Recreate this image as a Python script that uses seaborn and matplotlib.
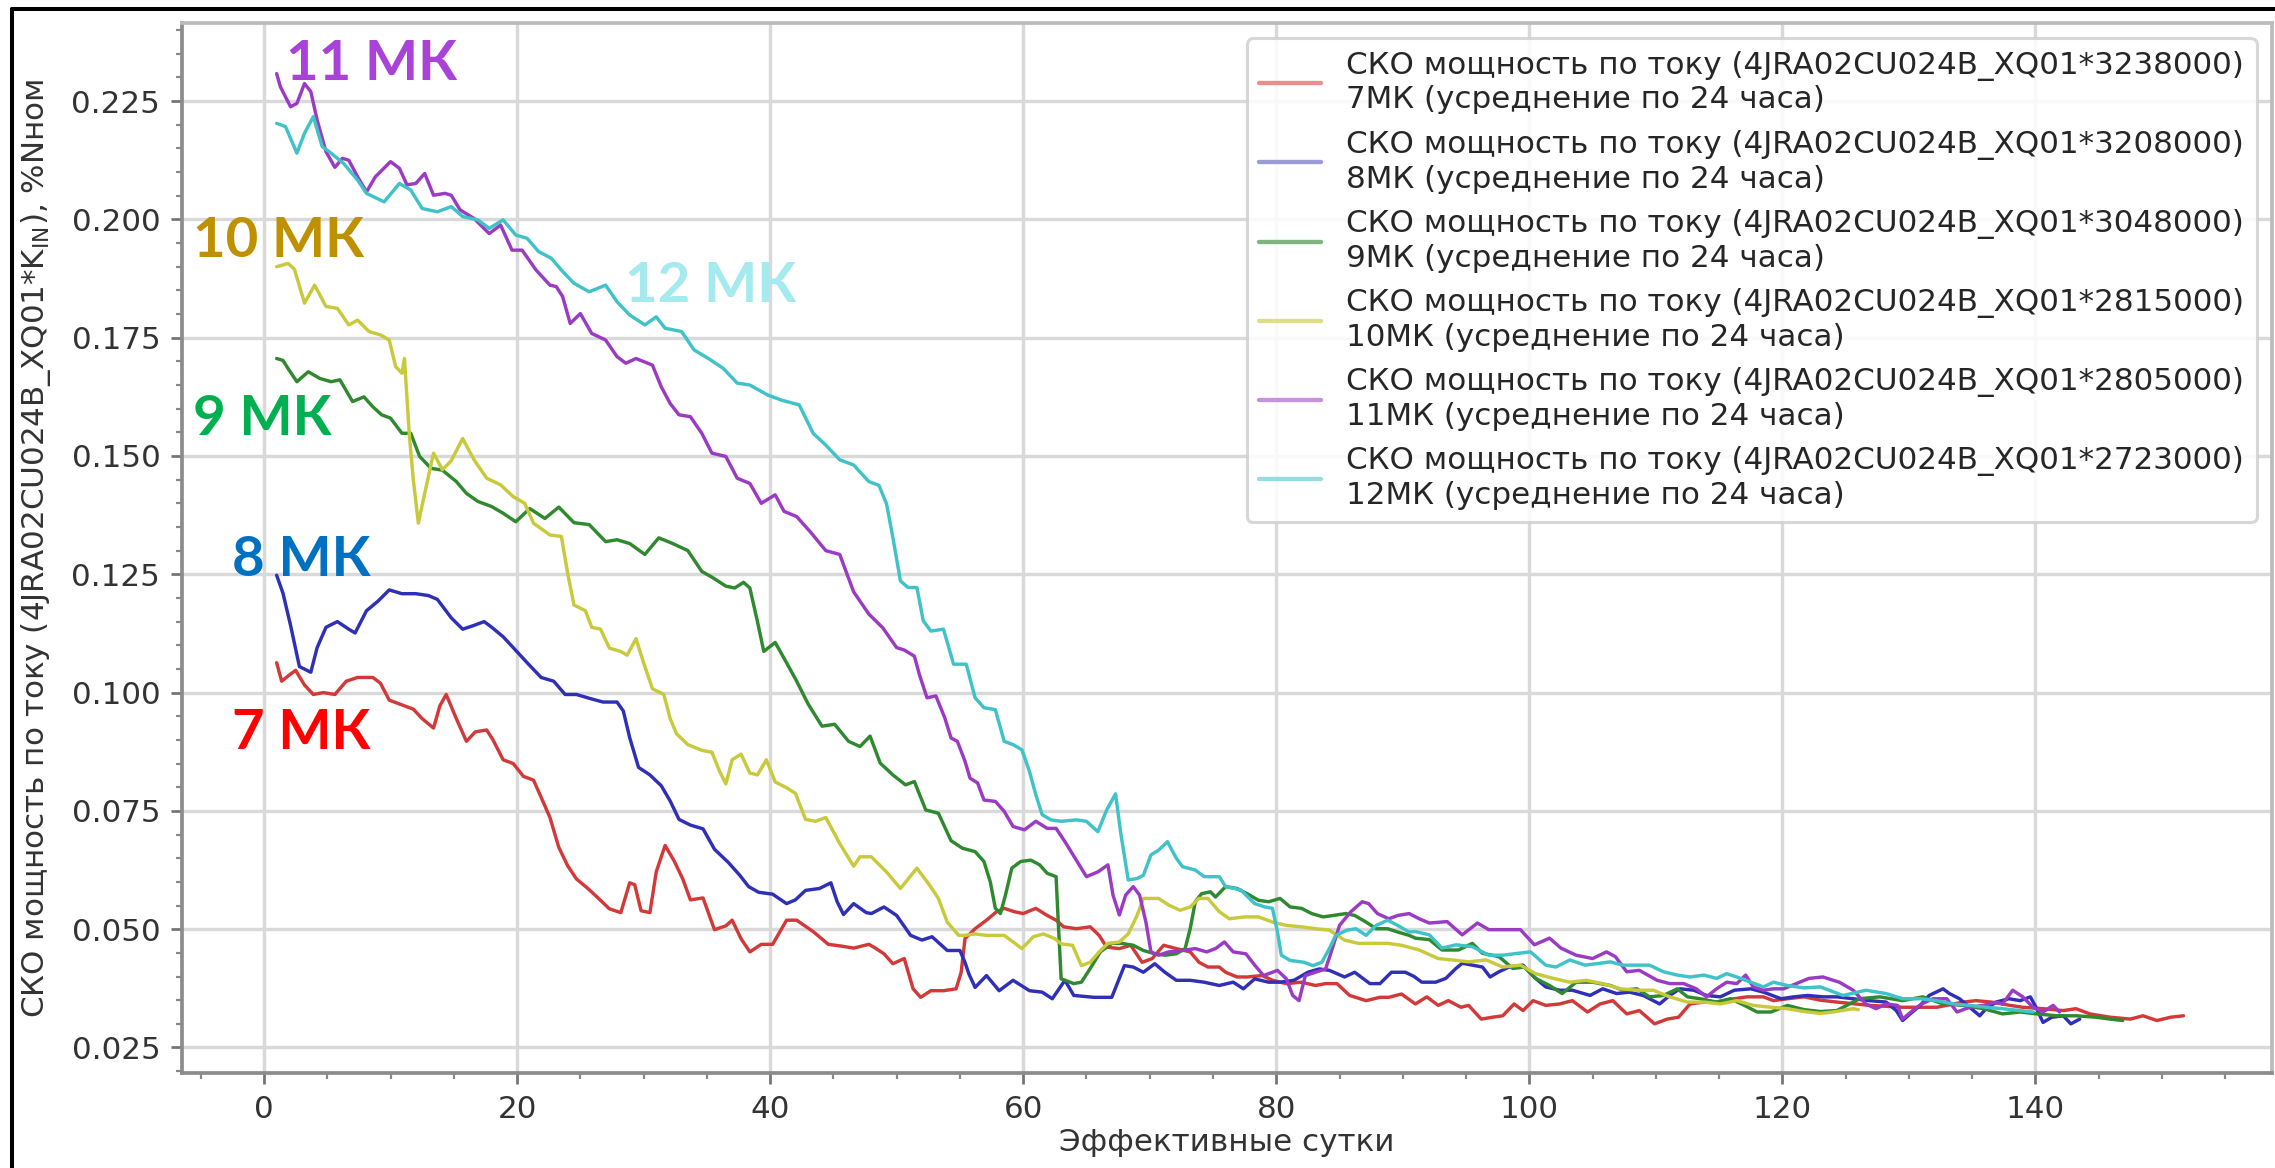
import matplotlib
matplotlib.use("Agg")
import matplotlib.pyplot as plt
import seaborn as sns
from matplotlib.ticker import MultipleLocator, AutoMinorLocator
from matplotlib.lines import Line2D

# ---------------- data ----------------
days_7 = [1.0, 1.4, 1.9, 2.5, 3.2, 3.9, 4.7, 5.6, 6.5, 7.4, 8.6, 9.2, 9.9, 10.7, 11.8, 12.5, 13.4, 13.9, 14.4, 15.2,
          16.0, 16.7, 17.6, 18.1, 18.9, 19.7, 20.5, 21.3, 21.9, 22.6, 23.3, 24.0, 24.7, 25.6, 26.4, 27.3, 28.2, 28.9,
          29.3, 29.8, 30.5, 31.0, 31.7, 32.4, 33.1, 33.7, 34.7, 35.6, 36.5, 37.0, 37.7, 38.4, 39.3, 40.2, 41.3, 42.1,
          43.4, 44.6, 45.7, 46.6, 47.8, 48.2, 49.0, 49.7, 50.6, 51.3, 51.9, 52.7, 53.7, 54.7, 55.1, 55.4, 56.2, 57.1,
          57.9, 58.5, 59.3, 60.0, 61.0, 61.9, 62.6, 63.2, 64.2, 65.3, 66.0, 66.6, 67.6, 68.5, 69.4, 70.2, 71.1, 72.1,
          73.2, 73.9, 74.6, 75.5, 76.0, 76.9, 77.7, 78.9, 79.7, 80.8, 82.0, 83.1, 83.9, 84.8, 85.8, 87.1, 88.2, 88.9,
          89.9, 91.0, 91.9, 92.8, 93.6, 94.6, 95.2, 96.2, 97.1, 97.9, 98.8, 99.5, 100.3, 101.3, 102.4, 103.4, 104.6,
          105.6, 106.6, 107.7, 108.7, 109.9, 110.9, 111.8, 112.7, 113.8, 114.8, 116.2, 117.2, 118.5, 119.3, 120.4,
          121.7, 123.0, 124.3, 126.9, 129.5, 132.2, 134.3, 135.3, 136.5, 138.0, 139.0, 140.6, 142.2, 143.2, 144.3,
          145.9, 147.5, 148.5, 149.6, 150.7, 151.7]
sko_7 = [0.1063, 0.1024, 0.1035, 0.1047, 0.1016, 0.0996, 0.1000, 0.0996, 0.1024, 0.1032, 0.1032, 0.1020, 0.0984,
         0.0976, 0.0965, 0.0945, 0.0925, 0.0972, 0.0996, 0.0945, 0.0897, 0.0917, 0.0921, 0.0900, 0.0858, 0.0850,
         0.0823, 0.0815, 0.0779, 0.0736, 0.0673, 0.0634, 0.0606, 0.0586, 0.0566, 0.0543, 0.0535, 0.0598, 0.0594,
         0.0539, 0.0535, 0.0621, 0.0677, 0.0645, 0.0606, 0.0562, 0.0566, 0.0499, 0.0507, 0.0519, 0.0480, 0.0452,
         0.0468, 0.0468, 0.0519, 0.0519, 0.0495, 0.0468, 0.0464, 0.0460, 0.0468, 0.0462, 0.0448, 0.0427, 0.0438,
         0.0374, 0.0356, 0.0370, 0.0370, 0.0374, 0.0409, 0.0480, 0.0501, 0.0519, 0.0537, 0.0544, 0.0537, 0.0533,
         0.0544, 0.0529, 0.0519, 0.0505, 0.0501, 0.0505, 0.0487, 0.0462, 0.0459, 0.0466, 0.0430, 0.0438, 0.0466,
         0.0459, 0.0452, 0.0430, 0.0420, 0.0420, 0.0409, 0.0399, 0.0399, 0.0402, 0.0392, 0.0385, 0.0388, 0.0381,
         0.0385, 0.0385, 0.0360, 0.0349, 0.0356, 0.0356, 0.0363, 0.0342, 0.0357, 0.0339, 0.0349, 0.0335, 0.0339,
         0.0310, 0.0314, 0.0317, 0.0342, 0.0328, 0.0349, 0.0339, 0.0342, 0.0349, 0.0325, 0.0342, 0.0349, 0.0321,
         0.0328, 0.0300, 0.0310, 0.0314, 0.0342, 0.0346, 0.0346, 0.0353, 0.0357, 0.0357, 0.0349, 0.0353, 0.0357,
         0.0350, 0.0346, 0.0339, 0.0335, 0.0335, 0.0346, 0.0349, 0.0346, 0.0339, 0.0335, 0.0332, 0.0328, 0.0332,
         0.0321, 0.0314, 0.0310, 0.0317, 0.0307, 0.0314, 0.0317]

days_8 = [1.0, 1.5, 2.1, 2.8, 3.7, 4.2, 4.9, 5.8, 6.7, 7.2, 8.1, 9.0, 9.9, 10.9, 12.0, 13.0, 13.7, 14.8, 15.7, 16.6,
          17.4, 18.0, 18.9, 19.7, 20.8, 21.9, 22.9, 23.8, 24.7, 25.7, 26.8, 27.9, 28.4, 28.9, 29.6, 30.5, 31.4, 32.1,
          32.8, 33.7, 34.7, 35.6, 36.7, 37.6, 38.3, 39.1, 40.2, 41.3, 42.0, 42.8, 43.9, 44.8, 45.3, 45.8, 46.6, 47.6,
          48.0, 49.0, 50.0, 51.1, 52.0, 52.8, 54.0, 55.0, 55.4, 55.7, 56.2, 57.1, 58.1, 59.2, 60.5, 61.5, 62.3, 63.3,
          64.0, 65.6, 67.0, 68.0, 68.7, 69.5, 70.4, 71.2, 72.1, 73.2, 74.3, 75.5, 76.6, 77.4, 78.3, 79.4, 80.3, 81.4,
          82.5, 83.4, 84.2, 85.4, 86.2, 87.4, 88.2, 89.1, 90.2, 90.9, 91.5, 92.6, 93.4, 94.2, 94.7, 95.5, 96.3, 96.9,
          97.6, 98.4, 99.5, 100.5, 101.3, 102.4, 103.4, 104.8, 105.8, 106.9, 107.9, 109.0, 110.3, 111.1, 111.9, 113.0,
          114.0, 115.1, 116.2, 117.5, 118.5, 119.9, 120.9, 122.0, 123.2, 124.3, 125.6, 126.9, 128.2, 129.0, 129.5,
          130.1, 130.9, 131.6, 132.7, 133.2, 134.0, 134.8, 135.6, 136.1, 136.9, 137.9, 138.8, 139.6, 140.1, 140.6,
          141.3, 142.2, 142.8, 143.5]
sko_8 = [0.1248, 0.1210, 0.1142, 0.1055, 0.1043, 0.1095, 0.1138, 0.1150, 0.1134, 0.1126, 0.1173, 0.1193, 0.1217,
         0.1209, 0.1209, 0.1205, 0.1197, 0.1158, 0.1134, 0.1142, 0.1150, 0.1138, 0.1118, 0.1095, 0.1063, 0.1032,
         0.1024, 0.0996, 0.0996, 0.0988, 0.0980, 0.0980, 0.0961, 0.0905, 0.0842, 0.0826, 0.0803, 0.0771, 0.0732,
         0.0720, 0.0712, 0.0669, 0.0641, 0.0614, 0.0590, 0.0578, 0.0574, 0.0554, 0.0562, 0.0582, 0.0586, 0.0598,
         0.0558, 0.0531, 0.0554, 0.0535, 0.0533, 0.0547, 0.0529, 0.0487, 0.0477, 0.0484, 0.0455, 0.0455, 0.0430,
         0.0406, 0.0377, 0.0402, 0.0370, 0.0392, 0.0370, 0.0367, 0.0353, 0.0392, 0.0360, 0.0356, 0.0356, 0.0423,
         0.0420, 0.0409, 0.0427, 0.0409, 0.0392, 0.0392, 0.0388, 0.0381, 0.0388, 0.0374, 0.0395, 0.0388, 0.0388,
         0.0392, 0.0409, 0.0416, 0.0413, 0.0399, 0.0409, 0.0385, 0.0385, 0.0409, 0.0409, 0.0400, 0.0388, 0.0388,
         0.0396, 0.0417, 0.0428, 0.0424, 0.0420, 0.0399, 0.0410, 0.0420, 0.0424, 0.0396, 0.0378, 0.0371, 0.0371,
         0.0360, 0.0374, 0.0364, 0.0367, 0.0360, 0.0342, 0.0360, 0.0374, 0.0371, 0.0360, 0.0357, 0.0371, 0.0374,
         0.0367, 0.0353, 0.0357, 0.0360, 0.0357, 0.0357, 0.0353, 0.0349, 0.0346, 0.0328, 0.0307, 0.0321, 0.0339,
         0.0360, 0.0374, 0.0364, 0.0353, 0.0335, 0.0317, 0.0332, 0.0346, 0.0353, 0.0349, 0.0357, 0.0332, 0.0303,
         0.0314, 0.0317, 0.0300, 0.0310]

days_9 = [1.0, 1.5, 1.9, 2.6, 3.5, 4.4, 5.3, 6.0, 7.0, 7.9, 8.6, 9.3, 10.0, 10.9, 11.6, 12.3, 13.2, 14.1, 15.2, 16.0,
          16.9, 18.0, 18.9, 19.9, 21.0, 22.2, 23.3, 24.5, 25.7, 27.0, 27.9, 28.9, 30.1, 31.2, 32.3, 33.5, 34.6, 35.4,
          36.5, 37.2, 37.9, 38.4, 39.0, 39.5, 40.4, 41.3, 42.1, 43.0, 44.1, 45.1, 46.2, 47.1, 47.9, 48.7, 49.7, 50.7,
          51.4, 52.3, 53.3, 54.3, 55.2, 56.2, 56.9, 57.4, 57.8, 58.2, 58.6, 59.1, 59.8, 60.6, 61.3, 61.9, 62.6, 62.8,
          63.0, 63.3, 64.0, 64.6, 65.3, 66.1, 67.0, 67.8, 68.7, 69.5, 70.4, 71.2, 72.1, 72.8, 73.2, 73.6, 74.1, 74.8,
          75.2, 76.0, 76.9, 77.7, 78.6, 79.4, 80.3, 81.1, 82.0, 82.8, 83.7, 84.5, 85.5, 86.2, 87.1, 87.9, 88.8, 89.6,
          90.5, 91.0, 92.1, 93.1, 94.4, 95.5, 96.3, 97.6, 98.7, 99.6, 100.5, 101.6, 102.6, 103.7, 105.0, 106.4, 107.4,
          108.5, 109.5, 110.6, 111.7, 112.5, 113.5, 114.8, 115.9, 117.0, 118.0, 119.1, 120.4, 121.7, 123.0, 124.3,
          126.1, 127.7, 129.5, 131.1, 132.7, 134.3, 135.9, 137.4, 138.8, 140.1, 141.7, 143.2, 144.8, 145.9, 146.9]
sko_9 = [0.1706, 0.1702, 0.1685, 0.1657, 0.1678, 0.1664, 0.1657, 0.1661, 0.1615, 0.1625, 0.1604, 0.1587, 0.1580,
         0.1548, 0.1548, 0.1499, 0.1474, 0.1470, 0.1446, 0.1421, 0.1404, 0.1393, 0.1379, 0.1361, 0.1389, 0.1368,
         0.1392, 0.1359, 0.1355, 0.1319, 0.1323, 0.1315, 0.1292, 0.1327, 0.1315, 0.1300, 0.1256, 0.1244, 0.1225,
         0.1221, 0.1233, 0.1221, 0.1150, 0.1087, 0.1106, 0.1063, 0.1024, 0.0976, 0.0929, 0.0933, 0.0897, 0.0886,
         0.0908, 0.0851, 0.0826, 0.0805, 0.0812, 0.0752, 0.0745, 0.0687, 0.0671, 0.0664, 0.0643, 0.0600, 0.0544,
         0.0533, 0.0572, 0.0629, 0.0643, 0.0646, 0.0636, 0.0618, 0.0611, 0.0500, 0.0395, 0.0392, 0.0385, 0.0388,
         0.0417, 0.0452, 0.0470, 0.0470, 0.0466, 0.0455, 0.0448, 0.0445, 0.0448, 0.0459, 0.0501, 0.0558, 0.0575,
         0.0579, 0.0568, 0.0590, 0.0586, 0.0575, 0.0561, 0.0558, 0.0565, 0.0547, 0.0544, 0.0533, 0.0526, 0.0529,
         0.0533, 0.0529, 0.0515, 0.0501, 0.0501, 0.0494, 0.0487, 0.0481, 0.0478, 0.0456, 0.0456, 0.0470, 0.0449,
         0.0442, 0.0417, 0.0420, 0.0396, 0.0381, 0.0364, 0.0388, 0.0388, 0.0381, 0.0371, 0.0374, 0.0357, 0.0360,
         0.0374, 0.0357, 0.0353, 0.0346, 0.0353, 0.0339, 0.0325, 0.0325, 0.0339, 0.0330, 0.0326, 0.0328, 0.0353,
         0.0357, 0.0349, 0.0357, 0.0342, 0.0339, 0.0332, 0.0321, 0.0325, 0.0321, 0.0317, 0.0317, 0.0314, 0.0310,
         0.0307]

days_10 = [1.0, 1.9, 2.4, 3.2, 4.0, 4.9, 5.8, 6.7, 7.4, 8.3, 9.2, 9.9, 10.4, 10.9, 11.1, 11.5, 11.8, 12.2, 12.7, 13.4,
           14.1, 14.8, 15.7, 16.6, 17.6, 18.7, 19.7, 20.6, 21.3, 22.6, 23.5, 24.0, 24.5, 25.4, 25.9, 26.6, 27.3, 28.2,
           28.7, 29.4, 30.0, 30.7, 31.6, 32.1, 32.6, 33.5, 34.6, 35.4, 36.0, 36.5, 37.0, 37.7, 38.4, 39.0, 39.7, 40.4,
           41.3, 42.0, 42.8, 43.6, 44.4, 45.5, 46.6, 47.1, 48.0, 49.2, 50.3, 51.6, 52.6, 53.3, 54.0, 54.9, 55.4, 56.2,
           57.1, 58.5, 59.9, 60.8, 61.6, 62.5, 63.0, 63.9, 64.6, 65.3, 66.0, 66.7, 67.6, 68.3, 69.0, 69.5, 70.7, 71.5,
           72.4, 73.2, 73.9, 74.6, 75.5, 76.3, 77.5, 78.6, 79.7, 80.8, 82.0, 83.1, 84.2, 85.4, 86.5, 87.6, 88.8, 89.9,
           91.3, 92.8, 93.9, 95.2, 96.6, 97.9, 99.3, 100.5, 101.9, 103.2, 104.5, 105.8, 107.2, 108.5, 109.8, 111.1,
           112.5, 113.8, 115.1, 116.4, 117.7, 119.1, 120.4, 121.7, 123.0, 124.0, 125.6, 126.0]
sko_10 = [0.1900, 0.1907, 0.1895, 0.1823, 0.1861, 0.1816, 0.1812, 0.1777, 0.1787, 0.1763, 0.1756, 0.1745, 0.1689,
          0.1675, 0.1706, 0.1540, 0.1450, 0.1358, 0.1421, 0.1506, 0.1471, 0.1490, 0.1537, 0.1492, 0.1453, 0.1439,
          0.1414, 0.1400, 0.1358, 0.1333, 0.1330, 0.1252, 0.1185, 0.1173, 0.1138, 0.1134, 0.1094, 0.1087, 0.1079,
          0.1114, 0.1063, 0.1008, 0.0996, 0.0945, 0.0913, 0.0890, 0.0878, 0.0874, 0.0834, 0.0807, 0.0858, 0.0870,
          0.0830, 0.0826, 0.0858, 0.0811, 0.0799, 0.0787, 0.0732, 0.0728, 0.0736, 0.0681, 0.0633, 0.0653, 0.0653,
          0.0621, 0.0586, 0.0629, 0.0593, 0.0565, 0.0515, 0.0487, 0.0487, 0.0490, 0.0487, 0.0487, 0.0459, 0.0484,
          0.0490, 0.0480, 0.0469, 0.0466, 0.0423, 0.0430, 0.0452, 0.0470, 0.0473, 0.0490, 0.0529, 0.0565, 0.0565,
          0.0551, 0.0540, 0.0547, 0.0565, 0.0565, 0.0537, 0.0522, 0.0526, 0.0526, 0.0515, 0.0508, 0.0505, 0.0501,
          0.0498, 0.0477, 0.0470, 0.0470, 0.0470, 0.0466, 0.0456, 0.0438, 0.0435, 0.0431, 0.0435, 0.0420, 0.0424,
          0.0406, 0.0396, 0.0388, 0.0392, 0.0385, 0.0374, 0.0371, 0.0371, 0.0357, 0.0346, 0.0346, 0.0342, 0.0349,
          0.0339, 0.0335, 0.0332, 0.0326, 0.0322, 0.0325, 0.0332, 0.0330]

days_11 = [1.0, 1.3, 2.1, 2.6, 3.2, 3.7, 4.2, 4.9, 5.6, 6.2, 6.7, 7.4, 8.1, 8.8, 10.0, 10.7, 11.3, 12.0, 12.7, 13.4,
           14.3, 14.8, 15.5, 16.6, 17.8, 18.7, 19.6, 20.4, 21.5, 22.6, 23.1, 23.6, 24.2, 25.0, 25.9, 27.0, 27.9, 28.6,
           29.4, 30.7, 31.4, 32.1, 32.8, 33.7, 34.6, 35.4, 36.5, 37.4, 38.4, 39.3, 40.4, 41.1, 42.1, 43.2, 44.4, 45.5,
           46.6, 47.8, 48.9, 50.0, 50.6, 51.4, 51.8, 52.4, 53.1, 53.8, 54.3, 54.8, 55.4, 55.8, 56.4, 56.9, 57.8, 58.5,
           59.2, 60.1, 61.0, 61.9, 62.6, 63.3, 64.2, 65.0, 65.9, 66.7, 67.1, 67.6, 68.1, 68.7, 69.2, 69.7, 70.1, 70.7,
           71.5, 72.6, 73.6, 74.5, 75.2, 75.9, 76.6, 77.6, 78.3, 79.0, 80.1, 80.8, 81.3, 81.8, 82.3, 83.1, 83.9, 84.3,
           85.0, 85.9, 86.8, 87.3, 88.0, 88.9, 89.6, 90.5, 91.3, 92.1, 93.5, 94.7, 95.9, 96.8, 97.9, 99.3, 100.4, 101.6,
           102.5, 103.7, 105.0, 106.1, 106.8, 107.7, 108.7, 110.1, 111.1, 112.2, 113.2, 114.0, 114.8, 115.6, 116.4,
           117.1, 117.7, 118.5, 119.3, 120.1, 121.1, 122.1, 123.2, 124.5, 125.6, 126.6, 127.4, 128.2, 129.1, 129.5,
           130.3, 131.0, 131.9, 133.0, 133.8, 134.8, 135.9, 136.9, 137.4, 138.2, 139.0, 139.8, 140.6, 141.4, 141.9]
sko_11 = [0.2308, 0.2280, 0.2238, 0.2245, 0.2287, 0.2270, 0.2210, 0.2143, 0.2110, 0.2129, 0.2125, 0.2090, 0.2058,
          0.2090, 0.2122, 0.2108, 0.2073, 0.2076, 0.2097, 0.2051, 0.2055, 0.2051, 0.2020, 0.2002, 0.1970, 0.1988,
          0.1935, 0.1935, 0.1893, 0.1861, 0.1858, 0.1837, 0.1780, 0.1801, 0.1759, 0.1745, 0.1710, 0.1696, 0.1706,
          0.1692, 0.1646, 0.1611, 0.1587, 0.1583, 0.1548, 0.1506, 0.1499, 0.1453, 0.1442, 0.1400, 0.1418, 0.1383,
          0.1372, 0.1339, 0.1300, 0.1292, 0.1213, 0.1166, 0.1137, 0.1095, 0.1090, 0.1077, 0.1038, 0.0989, 0.0993,
          0.0947, 0.0904, 0.0897, 0.0855, 0.0819, 0.0809, 0.0773, 0.0770, 0.0749, 0.0717, 0.0710, 0.0728, 0.0713,
          0.0713, 0.0685, 0.0646, 0.0611, 0.0621, 0.0636, 0.0572, 0.0530, 0.0572, 0.0590, 0.0572, 0.0515, 0.0452,
          0.0445, 0.0452, 0.0455, 0.0459, 0.0452, 0.0459, 0.0473, 0.0452, 0.0448, 0.0424, 0.0402, 0.0413, 0.0395,
          0.0360, 0.0349, 0.0402, 0.0409, 0.0416, 0.0448, 0.0508, 0.0537, 0.0558, 0.0554, 0.0533, 0.0522, 0.0529,
          0.0533, 0.0522, 0.0513, 0.0516, 0.0488, 0.0513, 0.0499, 0.0499, 0.0499, 0.0467, 0.0481, 0.0460, 0.0445,
          0.0438, 0.0452, 0.0442, 0.0410, 0.0413, 0.0392, 0.0385, 0.0385, 0.0374, 0.0357, 0.0374, 0.0388, 0.0385,
          0.0403, 0.0378, 0.0371, 0.0374, 0.0374, 0.0385, 0.0396, 0.0399, 0.0388, 0.0371, 0.0342, 0.0332, 0.0342,
          0.0339, 0.0310, 0.0328, 0.0342, 0.0353, 0.0353, 0.0325, 0.0335, 0.0339, 0.0346, 0.0342, 0.0371, 0.0357,
          0.0335, 0.0325, 0.0339, 0.0325]

days_12 = [1.0, 1.7, 2.6, 3.2, 3.9, 4.6, 5.3, 6.3, 7.4, 8.1, 9.5, 10.7, 11.6, 12.5, 13.7, 14.8, 15.7, 16.9, 17.8, 18.9,
           19.9, 20.8, 21.7, 22.7, 23.6, 24.5, 25.7, 27.0, 27.9, 28.9, 30.1, 31.0, 31.7, 33.0, 34.0, 35.3, 36.3, 37.4,
           38.4, 39.8, 40.9, 42.3, 43.4, 44.4, 45.5, 46.6, 47.8, 48.6, 49.2, 49.7, 50.3, 50.9, 51.6, 52.1, 52.7, 53.7,
           54.5, 55.5, 56.2, 56.9, 57.8, 58.5, 59.2, 59.9, 60.5, 61.0, 61.5, 62.2, 63.0, 64.2, 65.0, 65.9, 66.6, 67.3,
           67.7, 68.3, 69.0, 69.5, 70.1, 70.7, 71.4, 72.1, 72.6, 73.6, 74.3, 75.5, 76.0, 77.2, 78.3, 79.1, 79.7, 80.1,
           80.4, 81.1, 82.2, 82.9, 83.6, 84.2, 84.7, 85.6, 86.3, 87.1, 87.9, 88.8, 89.6, 90.5, 91.0, 92.1, 93.1, 94.2,
           95.5, 96.8, 97.9, 99.1, 100.1, 101.3, 102.1, 103.2, 104.4, 105.6, 106.4, 107.4, 108.5, 109.5, 110.6, 111.7,
           112.7, 113.8, 114.8, 115.6, 116.4, 117.5, 118.5, 119.3, 120.4, 121.7, 123.0, 124.8, 126.6, 128.2, 129.5,
           130.9, 132.2, 133.5, 134.8, 136.1, 137.4, 138.8, 139.8]
sko_12 = [0.2203, 0.2196, 0.2140, 0.2182, 0.2217, 0.2154, 0.2140, 0.2118, 0.2083, 0.2055, 0.2037, 0.2076, 0.2062,
          0.2023, 0.2016, 0.2027, 0.2006, 0.1999, 0.1981, 0.1999, 0.1967, 0.1960, 0.1932, 0.1918, 0.1890, 0.1865,
          0.1847, 0.1861, 0.1826, 0.1798, 0.1777, 0.1794, 0.1770, 0.1763, 0.1724, 0.1703, 0.1685, 0.1654, 0.1650,
          0.1629, 0.1618, 0.1608, 0.1548, 0.1523, 0.1492, 0.1481, 0.1446, 0.1438, 0.1399, 0.1328, 0.1236, 0.1222,
          0.1222, 0.1152, 0.1130, 0.1134, 0.1060, 0.1060, 0.0989, 0.0968, 0.0964, 0.0897, 0.0890, 0.0879, 0.0833,
          0.0784, 0.0742, 0.0731, 0.0728, 0.0731, 0.0728, 0.0706, 0.0752, 0.0786, 0.0705, 0.0604, 0.0607, 0.0614,
          0.0657, 0.0667, 0.0685, 0.0650, 0.0632, 0.0625, 0.0611, 0.0611, 0.0590, 0.0583, 0.0554, 0.0547, 0.0544,
          0.0494, 0.0445, 0.0434, 0.0430, 0.0423, 0.0430, 0.0459, 0.0487, 0.0498, 0.0501, 0.0487, 0.0508, 0.0519,
          0.0508, 0.0494, 0.0495, 0.0488, 0.0460, 0.0467, 0.0463, 0.0445, 0.0445, 0.0449, 0.0452, 0.0424, 0.0420,
          0.0435, 0.0424, 0.0428, 0.0431, 0.0424, 0.0424, 0.0424, 0.0410, 0.0403, 0.0399, 0.0403, 0.0396, 0.0406,
          0.0399, 0.0388, 0.0378, 0.0388, 0.0381, 0.0376, 0.0378, 0.0360, 0.0371, 0.0364, 0.0353, 0.0353, 0.0349,
          0.0342, 0.0339, 0.0335, 0.0332, 0.0328, 0.0325]

legend_labels = [
    "СКО мощность по току (4JRA02CU024B_XQ01*3238000)\n7МК (усреднение по 24 часа)",
    "СКО мощность по току (4JRA02CU024B_XQ01*3208000)\n8МК (усреднение по 24 часа)",
    "СКО мощность по току (4JRA02CU024B_XQ01*3048000)\n9МК (усреднение по 24 часа)",
    "СКО мощность по току (4JRA02CU024B_XQ01*2815000)\n10МК (усреднение по 24 часа)",
    "СКО мощность по току (4JRA02CU024B_XQ01*2805000)\n11МК (усреднение по 24 часа)",
    "СКО мощность по току (4JRA02CU024B_XQ01*2723000)\n12МК (усреднение по 24 часа)",
]
tag_texts = ["7 МК", "8 МК", "9 МК", "10 МК", "11 МК", "12 МК"]
x_label = "Эффективные сутки"
y_label = "СКО мощность по току (4JRA02CU024B_XQ01*K$_{\\mathrm{IN}}$), %Nном"

# ---------------- style ----------------
series_days = [days_7, days_8, days_9, days_10, days_11, days_12]
series_vals = [sko_7, sko_8, sko_9, sko_10, sko_11, sko_12]
line_colors = ["#d23a3a", "#2f2fb8", "#2f8a2f", "#c9c93c", "#9b3bc4", "#3fc2c8"]
legend_colors = ["#ec8d8d", "#9a9ad6", "#7fb37f", "#dede86", "#c591e0", "#98dcdf"]
tag_colors = ["#ff0000", "#0070c0", "#00b050", "#bf9000", "#a842d8", "#a4eaee"]
tag_xy = [(-2.5, 0.0881), (-2.5, 0.1246), (-5.6, 0.1544), (-5.6, 0.1921), (1.75, 0.2295), (28.5, 0.1826)]

sns.set_style("whitegrid", {"grid.color": "#dcdcdc", "axes.edgecolor": "#999999"})
plt.rcParams["font.family"] = ["DejaVu Sans"]
plt.rcParams["font.size"] = 10

DPI = 223
fig = plt.figure(figsize=(2275 / DPI, 1168 / DPI), dpi=DPI)
ax = fig.add_axes([0.0800, 0.0813, 0.9187, 0.8990])

for d, v, c, lab in zip(series_days, series_vals, line_colors, legend_labels):
    sns.lineplot(x=d, y=v, ax=ax, color=c, linewidth=1.1, label=lab, estimator=None, sort=False)

ax.set_xlim(-6.48, 158.7)
ax.set_ylim(0.0196, 0.2415)
ax.xaxis.set_major_locator(MultipleLocator(20))
ax.yaxis.set_major_locator(MultipleLocator(0.025))
ax.xaxis.set_minor_locator(AutoMinorLocator(4))
ax.yaxis.set_minor_locator(AutoMinorLocator(5))
ax.yaxis.set_major_formatter(matplotlib.ticker.FormatStrFormatter("%.3f"))
ax.grid(True, which="major", color="#d9d9d9", linewidth=1.1)
ax.grid(False, which="minor")
ax.tick_params(which="major", direction="out", length=3.5, width=0.9, color="#777777",
               labelcolor="#333333", labelsize=10, bottom=True, left=True)
ax.tick_params(which="minor", direction="out", length=2.0, width=0.7, color="#888888",
               bottom=True, left=True)
for side in ["left", "bottom"]:
    ax.spines[side].set_color("#8c8c8c")
    ax.spines[side].set_linewidth(1.2)
for side in ["top", "right"]:
    ax.spines[side].set_color("#bbbbbb")
    ax.spines[side].set_linewidth(1.2)

ax.set_xlabel(x_label, fontsize=10, color="#333333", labelpad=1.5)
ax.set_ylabel(y_label, fontsize=10, color="#333333", labelpad=6)

leg = ax.legend(loc="upper right", fontsize=10, framealpha=0.85, edgecolor="#d0d0d0",
                fancybox=True, labelspacing=0.5)
for h, c in zip(leg.get_lines(), legend_colors):
    h.set_color(c)
    h.set_linewidth(1.4)

for t, c, (tx, ty) in zip(tag_texts, tag_colors, tag_xy):
    ax.text(tx, ty, t, color=c, fontsize=18.2, fontweight="bold",
            family=["Lato", "Open Sans", "DejaVu Sans"], ha="left", va="baseline", zorder=5)

# black frame of the picture (left and top edges)
fig.add_artist(Line2D([0.0053, 0.0053], [0.0, 0.992], transform=fig.transFigure, color="black", linewidth=1.3))
fig.add_artist(Line2D([0.0053, 1.0], [0.992, 0.992], transform=fig.transFigure, color="black", linewidth=1.3))

fig.savefig("out.png", dpi=DPI, facecolor="white")
